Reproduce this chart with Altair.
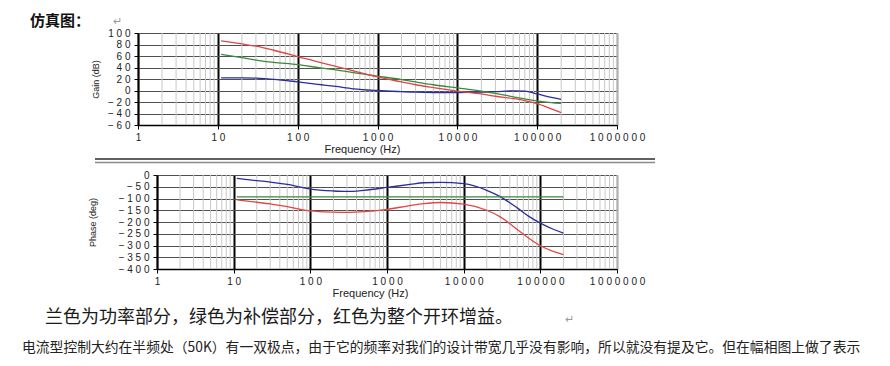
import altair as alt
import pandas as pd

# ---------------- data ----------------
freq = [11, 20, 30, 50, 100, 200, 300, 500, 1000, 2000, 3000, 5000,
        10000, 20000, 30000, 50000, 70000, 100000, 150000, 200000]

gain_blue = [22, 22, 21.5, 19.5, 15, 10, 7, 3, 0, -2, -3, -3.5,
             -3.5, -3, -2, -0.5, -1, -6, -12, -15.5]
gain_green = [63, 57, 53, 49, 45, 39, 36, 31, 25, 19, 15, 10,
              4.5, -1, -5, -11, -14.5, -18, -21, -22.5]
gain_red = [86.5, 81, 77, 70, 59, 48, 42, 34, 23.5, 15, 10, 5,
            -1, -6, -10, -14, -17.5, -23, -32, -38.5]

phase_blue = [-14, -24, -30, -40, -60, -68, -70, -65, -53, -40, -33, -31,
              -37, -65, -92, -140, -175, -205, -232, -247]
phase_green = [-93] * len(freq)
phase_red = [-106, -116, -123, -135, -153, -158, -159, -156, -146, -130, -122, -117,
             -124, -150, -178, -232, -268, -301, -326, -339]

series_names = ["功率部分", "补偿部分", "开环增益"]
series_colors = ["#2c2c9c", "#3a8a3a", "#e04646"]

decades = [1, 10, 100, 1000, 10000, 100000, 1000000]
light_grid = [k * 10 ** d for d in range(6) for k in range(2, 10)] + [1000000]
gain_ticks = [-60, -40, -20, 0, 20, 40, 60, 80, 100]
phase_ticks = [-400, -350, -300, -250, -200, -150, -100, -50, 0]

page_title = "仿真图："
caption1 = "兰色为功率部分，绿色为补偿部分，红色为整个开环增益。"
caption2 = "电流型控制大约在半频处（50K）有一双极点，由于它的频率对我们的设计带宽几乎没有影响，所以就没有提及它。但在幅相图上做了表示"
return_mark = "↵"


def to_long(values_list):
    rows = []
    for name, vals in zip(series_names, values_list):
        for f, v in zip(freq, vals):
            rows.append({"freq": f, "value": v, "series": name})
    return pd.DataFrame(rows)


gain_df = to_long([gain_blue, gain_green, gain_red])
phase_df = to_long([phase_blue, phase_green, phase_red])
grid_df = pd.DataFrame({"f": light_grid})

LABEL_EXPR = "join(split(datum.label, ''), ' ')"
AX_FONT = "Liberation Sans"
CJK = "Noto Sans CJK SC"

color_enc = alt.Color("series:N", scale=alt.Scale(domain=series_names, range=series_colors), legend=None)
decade_grid_color = {"condition": {"test": "datum.value >= 1000000", "value": "#9a9a9a"}, "value": "#000000"}


def x_axis(title_x):
    return alt.Axis(values=decades, format="d", labelExpr=LABEL_EXPR, title="Frequency (Hz)",
                    grid=True, gridColor=decade_grid_color, gridWidth=2,
                    domainColor="#000000", domainWidth=1.5, tickColor="#000000", tickSize=4,
                    labelFont=AX_FONT, labelFontSize=10, labelColor="#222222", labelPadding=3,
                    labelFlush=False, labelOverlap=False,
                    titleFont=AX_FONT, titleFontSize=11, titleFontWeight="normal", titleColor="#222222",
                    titleX=title_x, titlePadding=1)


def y_axis(values, title, title_x, offset=0):
    return alt.Axis(values=values, labelExpr=LABEL_EXPR, title=title, offset=offset,
                    grid=True, gridColor="#505050", gridWidth=1.2,
                    domainColor="#000000", domainWidth=1.5, tickColor="#000000", tickSize=4,
                    labelFont=AX_FONT, labelFontSize=10, labelColor="#222222", labelPadding=4,
                    labelFlush=False, labelOverlap=False,
                    titleFont=AX_FONT, titleFontSize=9, titleFontWeight="normal", titleColor="#222222",
                    titleX=title_x, titleBaseline="middle", titleAngle=270)


# ---------------- top: gain ----------------
x_top = alt.Scale(type="log", domain=[1, 1000000], nice=False)
top_x_axis = x_axis(224)

g_grid = alt.Chart(grid_df).mark_rule(color="#c8c8c8", strokeWidth=1).encode(
    x=alt.X("f:Q", scale=x_top, axis=top_x_axis))
g_lines = alt.Chart(gain_df).mark_line(strokeWidth=1.3, interpolate="monotone").encode(
    x=alt.X("freq:Q", scale=x_top, axis=top_x_axis),
    y=alt.Y("value:Q", scale=alt.Scale(domain=[-60, 100], nice=False), axis=y_axis(gain_ticks, "Gain (dB)", -43)),
    color=color_enc, order=alt.Order("freq:Q"))
g_title = alt.Chart(pd.DataFrame({"t": [page_title]})).mark_text(
    align="left", baseline="top", font=CJK, fontSize=15, fontWeight="bold", color="#111111").encode(
    text="t:N", x=alt.value(-108), y=alt.value(-19))
g_ret = alt.Chart(pd.DataFrame({"t": [return_mark]})).mark_text(
    align="left", baseline="top", font=CJK, fontSize=11, color="#999999").encode(
    text="t:N", x=alt.value(-25), y=alt.value(-17))
sep1 = alt.Chart(pd.DataFrame({"a": [0]})).mark_rule(color="#606060", strokeWidth=2).encode(
    x=alt.value(-43), x2=alt.value(517), y=alt.value(126))
sep2 = alt.Chart(pd.DataFrame({"a": [0]})).mark_rule(color="#8a8a8a", strokeWidth=1.5).encode(
    x=alt.value(-43), x2=alt.value(517), y=alt.value(129.5))

top = alt.layer(g_grid, g_lines, g_title, g_ret, sep1, sep2).properties(width=479, height=92)

# ---------------- bottom: phase ----------------
x_bot = alt.Scale(type="log", domain=[1, 1000000], nice=False, range=[19, 479])
bot_x_axis = x_axis(232)

p_grid = alt.Chart(grid_df).mark_rule(color="#c8c8c8", strokeWidth=1).encode(
    x=alt.X("f:Q", scale=x_bot, axis=bot_x_axis))
p_lines = alt.Chart(phase_df).mark_line(strokeWidth=1.3, interpolate="monotone").encode(
    x=alt.X("freq:Q", scale=x_bot, axis=bot_x_axis),
    y=alt.Y("value:Q", scale=alt.Scale(domain=[-400, 0], nice=False),
            axis=y_axis(phase_ticks, "Phase (deg)", -65, offset=-19)),
    color=color_enc, order=alt.Order("freq:Q"))
cap1 = alt.Chart(pd.DataFrame({"t": [caption1]})).mark_text(
    align="left", baseline="middle", font=CJK, fontSize=18, color="#1a1a1a").encode(
    text="t:N", x=alt.value(-93), y=alt.value(143))
cap1_ret = alt.Chart(pd.DataFrame({"t": [return_mark]})).mark_text(
    align="left", baseline="middle", font=CJK, fontSize=11, color="#999999").encode(
    text="t:N", x=alt.value(427), y=alt.value(145))
cap2 = alt.Chart(pd.DataFrame({"t": [caption2]})).mark_text(
    align="left", baseline="middle", font=CJK, fontSize=13.8, color="#222222").encode(
    text="t:N", x=alt.value(-116), y=alt.value(173))

bottom = alt.layer(p_grid, p_lines, cap1, cap1_ret, cap2).properties(width=479, height=94)

chart = alt.vconcat(top, bottom, spacing=50, bounds="flush").properties(
    padding={"left": 14, "top": 6, "right": 5, "bottom": 2},
    background="#ffffff",
).configure_view(stroke=None)

chart.save("out.html", embed_options={"renderer": "svg", "actions": False})
